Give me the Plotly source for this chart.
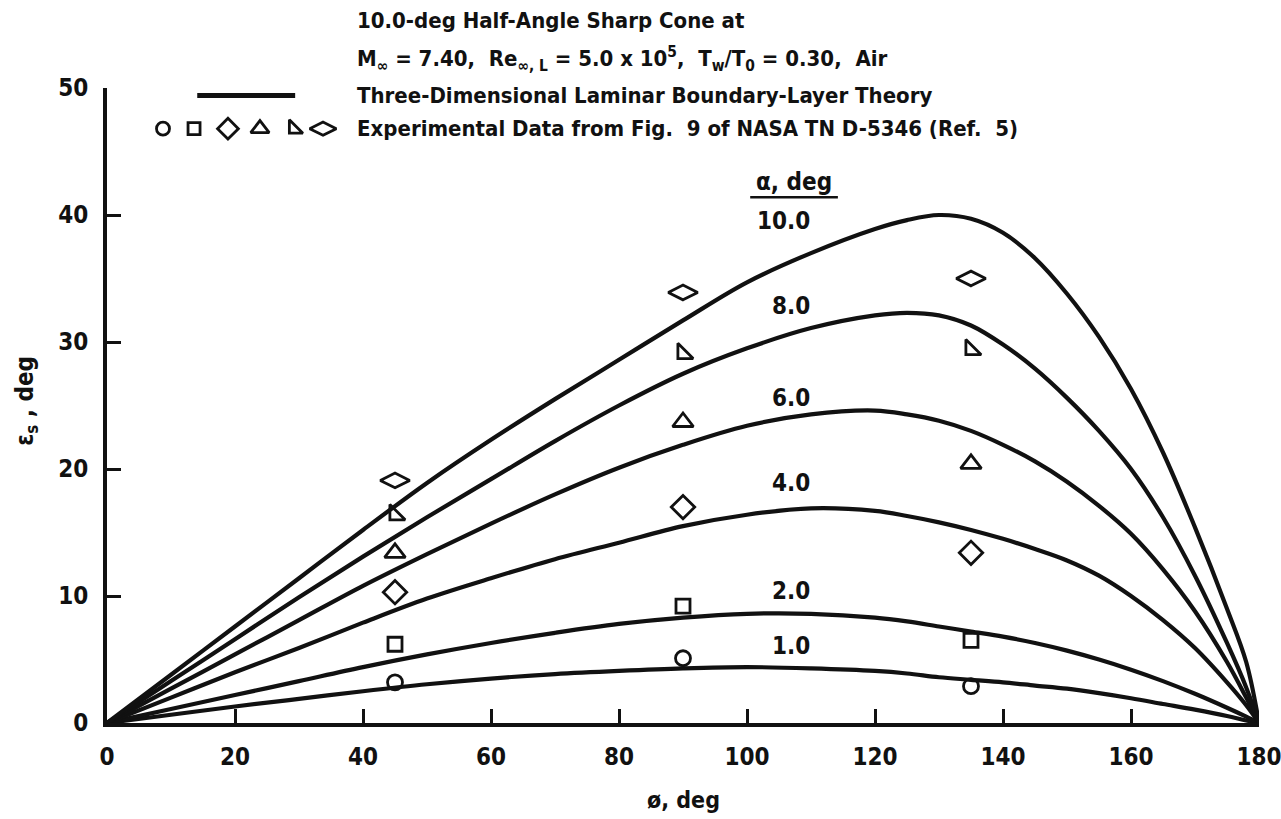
import plotly.graph_objects as go

# Circumferential station (deg) at which the theory curves are tabulated
PHI = [0, 10, 20, 30, 40, 50, 60, 70, 80, 90, 100, 110, 120, 125, 130, 135,
       140, 145, 150, 155, 160, 165, 170, 175, 178, 180]

# Angle of attack (deg) for each curve / data set
ALPHA = [1.0, 2.0, 4.0, 6.0, 8.0, 10.0]

# Three-dimensional laminar boundary-layer theory, epsilon_s (deg)
THEORY = {
    1.0: [0, 0.65, 1.3, 1.9, 2.5, 3.05, 3.5, 3.85, 4.1, 4.3, 4.4, 4.3, 4.1, 3.9,
          3.6, 3.4, 3.2, 2.95, 2.7, 2.35, 1.95, 1.5, 1.05, 0.55, 0.2, 0],
    2.0: [0, 1.1, 2.2, 3.3, 4.4, 5.4, 6.3, 7.1, 7.8, 8.3, 8.6, 8.6, 8.3, 8.0,
          7.6, 7.2, 6.8, 6.3, 5.7, 5.0, 4.2, 3.3, 2.3, 1.2, 0.5, 0],
    4.0: [0, 2.0, 4.0, 5.9, 7.9, 9.8, 11.4, 12.9, 14.2, 15.5, 16.4, 16.9, 16.7,
          16.3, 15.8, 15.2, 14.5, 13.7, 12.8, 11.6, 10.0, 8.1, 5.9, 3.2, 1.4, 0],
    6.0: [0, 2.7, 5.4, 8.1, 10.8, 13.3, 15.7, 18.0, 20.1, 21.9, 23.4, 24.3, 24.6,
          24.3, 23.8, 23.0, 21.9, 20.6, 19.0, 17.1, 14.9, 12.1, 8.8, 4.8, 2.0, 0],
    8.0: [0, 3.3, 6.6, 9.9, 13.1, 16.2, 19.2, 22.2, 25.0, 27.5, 29.5, 31.1, 32.1,
          32.3, 32.1, 31.3, 29.8, 27.9, 25.6, 23.0, 20.0, 16.2, 11.6, 6.3, 2.8, 0],
    10.0: [0, 3.8, 7.6, 11.4, 15.2, 18.9, 22.3, 25.5, 28.6, 31.7, 34.7, 37.0, 38.9,
           39.6, 40.0, 39.7, 38.6, 36.6, 33.8, 30.4, 26.3, 21.3, 15.4, 9.0, 4.8, 0],
}

# Experimental data, NASA TN D-5346 Fig. 9
EXP_PHI = [45, 90, 135]
EXP = {
    1.0: [3.2, 5.1, 2.9],
    2.0: [6.2, 9.2, 6.5],
    4.0: [10.3, 17.0, 13.4],
    6.0: [13.4, 23.7, 20.4],
    8.0: [16.4, 29.1, 29.4],
    10.0: [19.1, 33.9, 35.0],
}

# Curve labels (alpha, deg) and their placement
CURVE_LABELS = ["1.0", "2.0", "4.0", "6.0", "8.0", "10.0"]
LABEL_Y = [6.1, 10.4, 18.9, 25.6, 32.8, 39.5]

X_TICKS = [0, 20, 40, 60, 80, 100, 120, 140, 160, 180]
Y_TICKS = [0, 10, 20, 30, 40, 50]

SYMBOLS = {1.0: "circle-open", 2.0: "square-open", 4.0: "diamond-open",
           6.0: "triangle-up-open", 8.0: "triangle-sw-open",
           10.0: "diamond-wide-open"}
SIZES = {1.0: 15, 2.0: 14, 4.0: 18, 6.0: 18, 8.0: 17, 10.0: 21}

FONT = "Liberation Sans Narrow, DejaVu Sans Condensed, Roboto Condensed, Arial Narrow, sans-serif"
INK = "#111111"

fig = go.Figure()

for a in ALPHA:
    fig.add_trace(go.Scatter(
        x=PHI, y=THEORY[a], mode="lines",
        line=dict(color=INK, width=4.2, shape="spline", smoothing=1.0),
        showlegend=False, hoverinfo="skip",
    ))

for a in ALPHA:
    fig.add_trace(go.Scatter(
        x=EXP_PHI, y=EXP[a], mode="markers",
        marker=dict(symbol=SYMBOLS[a], size=SIZES[a], color=INK,
                    line=dict(color=INK, width=2.8)),
        showlegend=False,
    ))

# Key: a row of the six data symbols, and a line sample for the theory
key_x = [8.75, 13.6, 18.9, 23.9, 29.2, 33.75]
key_y = 46.8
for a, kx in zip(ALPHA, key_x):
    fig.add_trace(go.Scatter(
        x=[kx], y=[key_y], mode="markers",
        marker=dict(symbol=SYMBOLS[a], size=SIZES[a] - 2, color=INK,
                    line=dict(color=INK, width=2.8)),
        showlegend=False, hoverinfo="skip",
    ))
fig.add_shape(type="line", xref="x", yref="y", x0=14.1, x1=29.4, y0=49.4, y1=49.4,
              line=dict(color=INK, width=5))

ann_font = dict(family=FONT, size=22, color=INK, weight="bold")
# heading lines sit above the plot area, so they are placed in paper units
fig.add_annotation(x=38.75, y=1.107, xref="x", yref="paper",
                   text="10.0-deg Half-Angle Sharp Cone at", showarrow=False,
                   xanchor="left", yanchor="middle", font=ann_font)
fig.add_annotation(x=38.75, y=1.045, xref="x", yref="paper",
                   text="M<sub>\u221e</sub> = 7.40,\u00a0 Re<sub>\u221e, L</sub> = 5.0 x 10<sup>5</sup>,"
                        "\u00a0 T<sub>w</sub>/T<sub>0</sub> = 0.30,\u00a0 Air",
                   showarrow=False, xanchor="left", yanchor="middle", font=ann_font)
for ty, t in [(49.4, "Three-Dimensional Laminar Boundary-Layer Theory"),
              (46.8, "Experimental Data from Fig.\u00a0 9 of NASA TN D-5346 (Ref.\u00a0 5)")]:
    fig.add_annotation(x=38.75, y=ty, xref="x", yref="y", text=t, showarrow=False,
                       xanchor="left", yanchor="middle", font=ann_font)

# alpha labels on the curves
fig.add_annotation(x=107.4, y=42.6, xref="x", yref="y", text="\u03b1, deg",
                   showarrow=False, xanchor="center", yanchor="middle",
                   font=dict(family=FONT, size=24, color=INK, weight="bold"))
fig.add_shape(type="line", xref="x", yref="y", x0=100.5, x1=114.2, y0=41.4, y1=41.4,
              line=dict(color=INK, width=2.5))
for lab, ly in zip(CURVE_LABELS, LABEL_Y):
    fig.add_annotation(x=110.2, y=ly, xref="x", yref="y", text=lab, showarrow=False,
                       xanchor="right", yanchor="middle",
                       font=dict(family=FONT, size=24, color=INK, weight="bold"))

# axis titles
fig.add_annotation(x=90, y=-0.121, xref="x", yref="paper", text="\u00f8, deg",
                   showarrow=False, xanchor="center", yanchor="middle",
                   font=dict(family=FONT, size=23, color=INK, weight="bold"))
fig.add_annotation(x=-0.07, y=25.4, xref="paper", yref="y",
                   text="\u03b5<sub>s</sub> , deg", textangle=-90,
                   showarrow=False, xanchor="center", yanchor="middle",
                   font=dict(family=FONT, size=24, color=INK, weight="bold"))

axis_common = dict(
    showgrid=False, zeroline=False, showline=True, linecolor=INK, linewidth=4,
    ticks="inside", ticklen=14, tickwidth=3, tickcolor=INK,
    tickfont=dict(family=FONT, size=24, color=INK, weight="bold"),
    mirror=False, automargin=False,
)
fig.update_xaxes(range=[0, 180], tickvals=X_TICKS, ticklabelstandoff=9,
                 ticklabeloverflow="allow", **axis_common)
fig.update_yaxes(range=[0, 50], tickvals=Y_TICKS, ticklabelstandoff=10,
                 ticklabeloverflow="allow", **axis_common)

fig.update_layout(
    width=1281, height=819,
    margin=dict(l=107, r=22, t=88, b=96, autoexpand=False),
    paper_bgcolor="white", plot_bgcolor="white",
    font=dict(family=FONT, color=INK),
)

fig.write_html("out.html")
